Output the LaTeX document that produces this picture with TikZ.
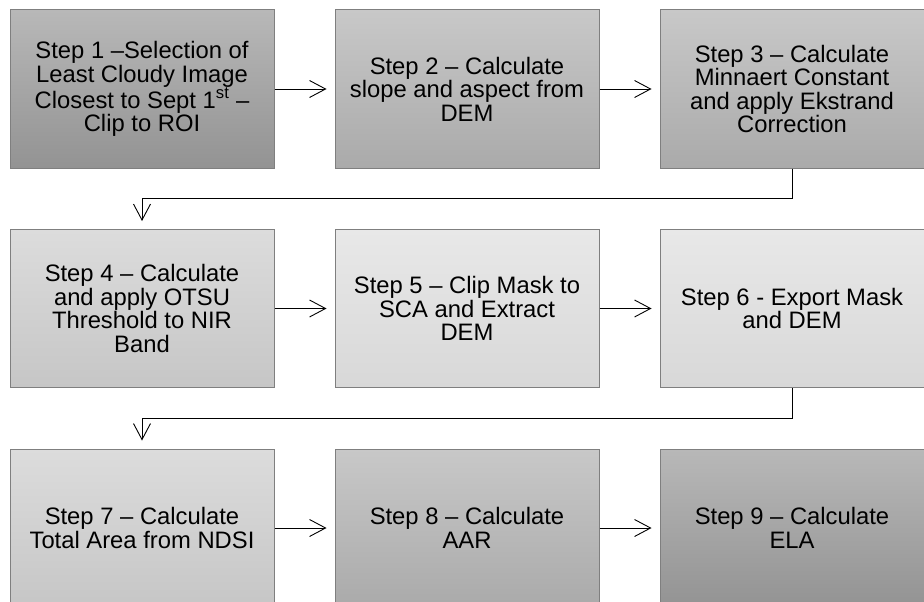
\documentclass[tikz,border=0pt]{standalone}
\usepackage{fontspec}
\setmainfont{Liberation Sans}
\usepackage{xcolor}
\usetikzlibrary{arrows.meta, positioning}
\definecolor{frame}{HTML}{7F7F7F}
\definecolor{darkT}{HTML}{B8B8B8}
\definecolor{darkB}{HTML}{939393}
\definecolor{midT}{HTML}{C8C8C8}
\definecolor{midB}{HTML}{AAAAAA}
\definecolor{lightT}{HTML}{DCDCDC}
\definecolor{lightB}{HTML}{C6C6C6}
\definecolor{paleT}{HTML}{E8E8E8}
\definecolor{paleB}{HTML}{D8D8D8}

\begin{document}
\begin{tikzpicture}[
  node distance=60.5pt and 60pt,
  stepbox/.style={rectangle, draw=frame, line width=1pt, minimum width=264pt, minimum height=158pt, inner sep=0pt, align=center, font=\fontsize{23.8}{23.5}\selectfont},
  dark/.style={top color=darkT, bottom color=darkB},
  mid/.style={top color=midT, bottom color=midB},
  light/.style={top color=lightT, bottom color=lightB},
  pale/.style={top color=paleT, bottom color=paleB},
  flow/.style={-{Straight Barb[length=16pt, width=17pt]}, line width=0.9pt, shorten >=8pt}
]
\useasboundingbox (0,0) rectangle (924pt,-602pt);

% Row 1
\node[stepbox, dark] (s1) at (142pt,-89pt) {Step 1 –Selection of\\Least Cloudy Image\\Closest to Sept 1\textsuperscript{st} –\\Clip to ROI};
\node[stepbox, mid, right=of s1] (s2) {Step 2 – Calculate\\slope and aspect from\\DEM};
\node[stepbox, mid, right=of s2] (s3) {Step 3 – Calculate\\Minnaert Constant\\and apply Ekstrand\\Correction};

% Row 2
\node[stepbox, light, below=of s1] (s4) {Step 4 – Calculate\\and apply OTSU\\Threshold to NIR\\Band};
\node[stepbox, pale, right=of s4] (s5) {Step 5 – Clip Mask to\\SCA and Extract\\DEM};
\node[stepbox, pale, right=of s5] (s6) {Step 6 - Export Mask\\and DEM};

% Row 3
\node[stepbox, light, below=of s4] (s7) {Step 7 – Calculate\\Total Area from NDSI};
\node[stepbox, mid, right=of s7] (s8) {Step 8 – Calculate\\AAR};
\node[stepbox, dark, right=of s8] (s9) {Step 9 – Calculate\\ELA};

% Arrows
\draw[flow] (s1) -- (s2);
\draw[flow] (s2) -- (s3);
\draw[flow] (s3.south) -- ++(0,-30pt) -| (s4.north);
\draw[flow] (s4) -- (s5);
\draw[flow] (s5) -- (s6);
\draw[flow] (s6.south) -- ++(0,-30pt) -| (s7.north);
\draw[flow] (s7) -- (s8);
\draw[flow] (s8) -- (s9);

\end{tikzpicture}
\end{document}
